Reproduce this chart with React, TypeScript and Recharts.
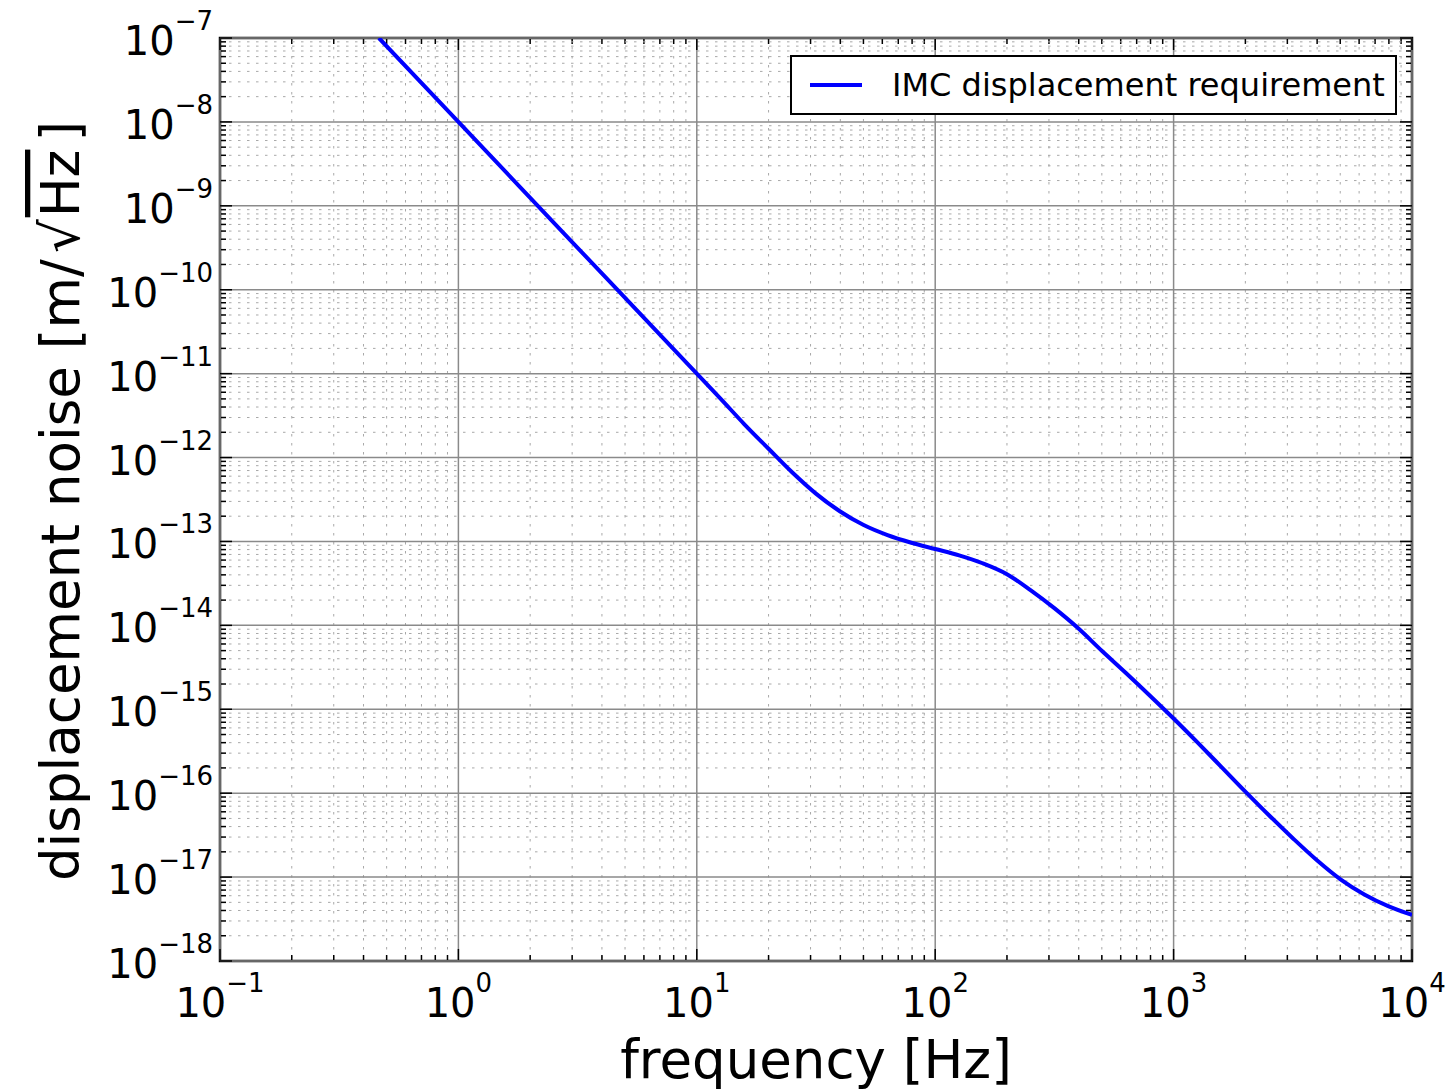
import React from 'react';
import { LineChart, Line, XAxis, YAxis, ReferenceLine, ReferenceArea, Legend } from 'recharts';

// Data
const frequencies = [0.464, 1, 3, 10, 12.6, 15.8, 20, 25.1, 31.6, 39.8, 50.1, 63.1, 79.4, 100, 126, 158, 200, 251, 316, 398, 501, 631, 794, 1000, 1259, 1585, 1995, 2512, 3162, 3981, 5012, 6310, 7943, 10000];
const noiseValues = [1e-7, 1e-8, 3.7e-10, 1e-11, 5.01e-12, 2.51e-12, 1.274e-12, 6.68e-13, 3.72e-13, 2.29e-13, 1.567e-13, 1.189e-13, 9.66e-14, 8.13e-14, 6.84e-14, 5.5e-14, 4.07e-14, 2.63e-14, 1.603e-14, 9.23e-15, 4.95e-15, 2.71e-15, 1.462e-15, 7.76e-16, 4.03e-16, 2.06e-16, 1.05e-16, 5.45e-17, 2.91e-17, 1.6e-17, 9.42e-18, 6.22e-18, 4.51e-18, 3.54e-18];

const xTickExponents = [-1, 0, 1, 2, 3, 4];
const yTickExponents = [-18, -17, -16, -15, -14, -13, -12, -11, -10, -9, -8, -7];
const minorMultipliers = [2, 3, 4, 5, 6, 7, 8, 9];

const seriesName = 'IMC displacement requirement';
const xLabel = 'frequency [Hz]';

const data = frequencies.map((f, i) => ({ f, v: noiseValues[i] }));
const xTicks = xTickExponents.map((e) => Math.pow(10, e));
const yTicks = yTickExponents.map((e) => Math.pow(10, e));
const xMinor = xTickExponents.slice(0, -1).flatMap((e) => minorMultipliers.map((m) => m * Math.pow(10, e)));
const yMinor = yTickExponents.slice(0, -1).flatMap((e) => minorMultipliers.map((m) => m * Math.pow(10, e)));

const FONT = "'DejaVu Sans', 'Bitstream Vera Sans', sans-serif";
const MAJOR_TICK = 12;
const MINOR_TICK = 6;

const expOf = (v: number) => Math.round(Math.log10(v));
const fmtExp = (e: number) => (e < 0 ? '\u2212' + String(-e) : String(e));

const gridStroke = (major: boolean) => ({
  stroke: major ? '#8a8a8a' : '#a8a8a8',
  strokeWidth: major ? 1.5 : 1,
  strokeDasharray: major ? undefined : '2.5 6.5',
});

const vShape = (major: boolean) => (p: any) => {
  const x = p.x1;
  const top = Math.min(p.y1, p.y2);
  const bot = Math.max(p.y1, p.y2);
  const len = major ? MAJOR_TICK : MINOR_TICK;
  return (
    <g>
      <line x1={x} x2={x} y1={top} y2={bot} {...gridStroke(major)} />
      <line x1={x} x2={x} y1={bot} y2={bot - len} stroke="#000" strokeWidth={1.5} />
      <line x1={x} x2={x} y1={top} y2={top + len} stroke="#000" strokeWidth={1.5} />
    </g>
  );
};

const hShape = (major: boolean) => (p: any) => {
  const y = p.y1;
  const left = Math.min(p.x1, p.x2);
  const right = Math.max(p.x1, p.x2);
  const len = major ? MAJOR_TICK : MINOR_TICK;
  return (
    <g>
      <line x1={left} x2={right} y1={y} y2={y} {...gridStroke(major)} />
      <line x1={left} x2={left + len} y1={y} y2={y} stroke="#000" strokeWidth={1.5} />
      <line x1={right} x2={right - len} y1={y} y2={y} stroke="#000" strokeWidth={1.5} />
    </g>
  );
};

const XTick = (props: any) => {
  const { x, y, payload } = props;
  const e = expOf(payload.value);
  return (
    <text x={x} y={y + 56} textAnchor="middle" fontFamily={FONT} fontSize={40} fill="#000">
      10<tspan dy={-25} fontSize={26}>{fmtExp(e)}</tspan>
    </text>
  );
};

const YTick = (props: any) => {
  const { x, y, payload } = props;
  const e = expOf(payload.value);
  return (
    <text x={x - 7} y={y + 17} textAnchor="end" fontFamily={FONT} fontSize={40} fill="#000">
      10<tspan dy={-25} fontSize={26}>{fmtExp(e)}</tspan>
    </text>
  );
};

const XLabel = (props: any) => {
  const vb = props.viewBox || { x: 220, y: 961, width: 1192, height: 130 };
  return (
    <text x={vb.x + vb.width / 2} y={vb.y + 117} textAnchor="middle" fontFamily={FONT} fontSize={53} fill="#000">
      {xLabel}
    </text>
  );
};

const YLabel = () => {
  const cx = 79;
  const cy = 501;
  return (
    <text x={cx} y={cy} transform={`rotate(-90 ${cx} ${cy})`} textAnchor="middle" fontFamily={FONT} fontSize={53} fill="#000">
      displacement noise [m/<tspan dx={6}>{'\u221A'}</tspan>
      <tspan dx={2} style={{ textDecoration: 'overline' }}>Hz</tspan>
      <tspan dx={8}>]</tspan>
    </text>
  );
};

const LegendContent = () => (
  <div
    style={{
      width: 607,
      height: 60,
      boxSizing: 'border-box',
      border: '2px solid #000',
      background: '#fff',
      display: 'flex',
      alignItems: 'center',
      fontFamily: FONT,
      fontSize: 32,
      color: '#000',
    }}
  >
    <div style={{ width: 52, height: 4, background: '#0000ff', marginLeft: 18, marginRight: 30 }} />
    <span style={{ whiteSpace: 'nowrap', lineHeight: '1' }}>{seriesName}</span>
  </div>
);

export default function App() {
  return (
    <div style={{ position: 'absolute', left: 0, top: 0, width: 1453, height: 1091, background: '#fff' }}>
      <LineChart width={1453} height={1091} data={data} margin={{ top: 38, right: 41, bottom: 0, left: 0 }}>
        <XAxis
          dataKey="f"
          type="number"
          scale="log"
          domain={[0.1, 10000]}
          ticks={xTicks}
          interval={0}
          allowDataOverflow
          height={130}
          tickSize={0}
          tickMargin={0}
          tickLine={false}
          axisLine={false}
          tick={<XTick />}
          label={<XLabel />}
        />
        <YAxis
          dataKey="v"
          type="number"
          scale="log"
          domain={[1e-18, 1e-7]}
          ticks={yTicks}
          interval={0}
          allowDataOverflow
          width={220}
          tickSize={0}
          tickMargin={0}
          tickLine={false}
          axisLine={false}
          tick={<YTick />}
        />
        {xMinor.map((v) => (
          <ReferenceLine key={'xm' + v} x={v} shape={vShape(false)} />
        ))}
        {yMinor.map((v) => (
          <ReferenceLine key={'ym' + v} y={v} shape={hShape(false)} />
        ))}
        {xTicks.map((v) => (
          <ReferenceLine key={'xM' + v} x={v} shape={vShape(true)} />
        ))}
        {yTicks.map((v) => (
          <ReferenceLine key={'yM' + v} y={v} shape={hShape(true)} />
        ))}
        <Line
          type="monotone"
          dataKey="v"
          name={seriesName}
          stroke="#0000ff"
          strokeWidth={4}
          dot={false}
          isAnimationActive={false}
        />
        <ReferenceArea x1={0.1} x2={10000} y1={1e-18} y2={1e-7} fill="none" fillOpacity={0} stroke="#000" strokeWidth={2.5} />
        <Legend
          content={<LegendContent />}
          wrapperStyle={{ position: 'absolute', left: 790, top: 55, width: 607, height: 0, overflow: 'visible' }}
        />
      </LineChart>
      <svg width={1453} height={1091} style={{ position: 'absolute', left: 0, top: 0, pointerEvents: 'none' }}>
        <YLabel />
      </svg>
    </div>
  );
}
